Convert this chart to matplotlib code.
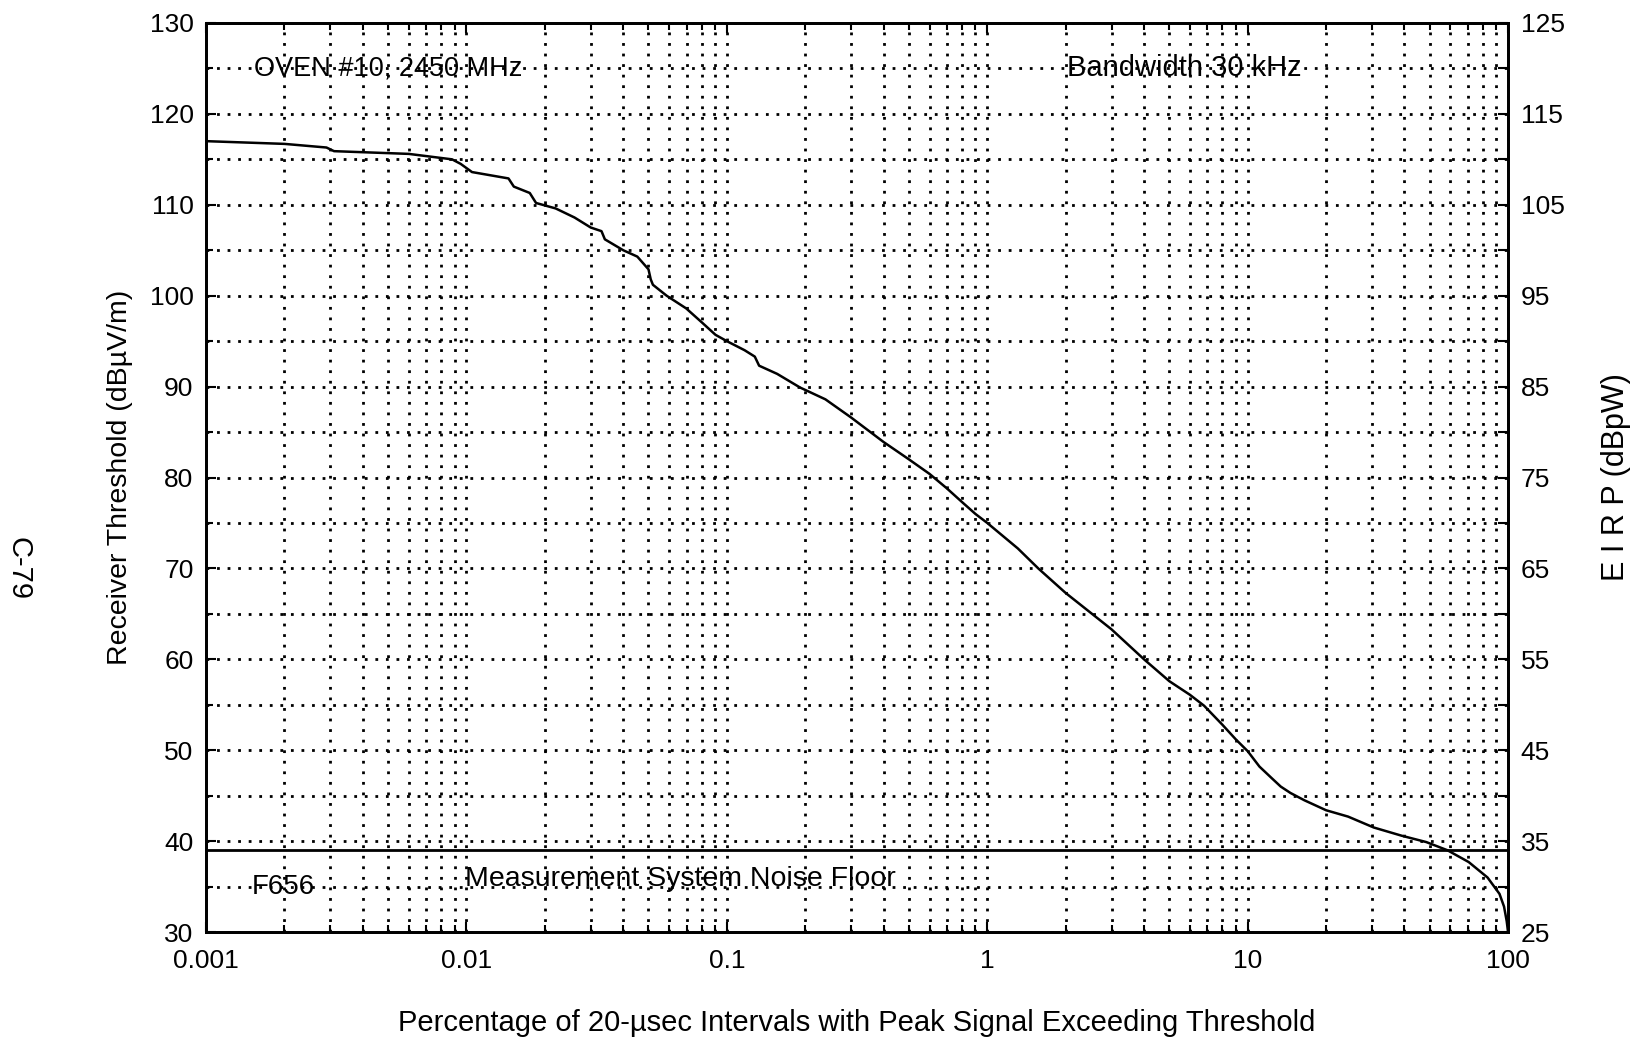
import matplotlib
matplotlib.use('Agg')
import matplotlib.pyplot as plt
from matplotlib.ticker import LogLocator, FixedLocator, MultipleLocator, NullFormatter

plt.rcParams['font.family'] = ['Liberation Sans Narrow', 'Liberation Sans', 'DejaVu Sans']

# percentage of intervals exceeding threshold vs receiver threshold (dBuV/m)
pct = [0.001, 0.002, 0.0029, 0.0031, 0.006, 0.0088, 0.0095, 0.0105, 0.0145,
       0.0152, 0.0175, 0.0185, 0.022, 0.026, 0.030, 0.033, 0.034, 0.040,
       0.0453, 0.050, 0.051, 0.052, 0.0587, 0.0698, 0.0806, 0.0904, 0.1,
       0.117, 0.128, 0.133, 0.156, 0.191, 0.239, 0.3, 0.4, 0.5, 0.6, 0.7,
       0.8, 0.9, 1.0, 1.31, 1.57, 2.0, 2.45, 3.0, 4.0, 5.0, 6.0, 6.8, 8.0,
       9.0, 10, 11.1, 12.4, 13.4, 14.6, 16.5, 20, 24.3, 30.5, 39, 48.5, 58.5,
       70.6, 83.4, 92.7, 96.5, 98.8, 100]
level = [117.0, 116.7, 116.3, 115.9, 115.6, 115.0, 114.5, 113.6, 112.9,
         112.0, 111.3, 110.2, 109.6, 108.6, 107.5, 107.1, 106.2, 105.0,
         104.3, 102.9, 101.8, 101.2, 100.0, 98.6, 97.0, 95.7, 95.0,
         94.0, 93.3, 92.3, 91.4, 89.9, 88.6, 86.6, 83.9, 82.0, 80.4, 78.8,
         77.3, 76.0, 75.0, 72.2, 70.0, 67.3, 65.3, 63.3, 60.0, 57.6, 56.1, 54.9, 52.8,
         51.2, 49.9, 48.2, 46.9, 46.0, 45.3, 44.5, 43.4, 42.7, 41.5, 40.6, 39.9,
         39.0, 37.7, 36.0, 34.2, 32.8, 31.2, 30.0]
noise_floor = 39.0

x_ticks = [0.001, 0.01, 0.1, 1, 10, 100]
x_labels = ['0.001', '0.01', '0.1', '1', '10', '100']

fig = plt.figure(figsize=(16.46, 10.54), dpi=100)
ax = fig.add_axes([0.1252, 0.1157, 0.7910, 0.8625])

dots = (0, (1, 2.8))
ax.set_xscale('log')
ax.set_xlim(0.001, 100)
ax.set_ylim(30, 130)
ax.xaxis.set_major_locator(FixedLocator(x_ticks))
ax.set_xticklabels(x_labels)
ax.xaxis.set_minor_locator(LogLocator(base=10, subs=range(2, 10)))
ax.xaxis.set_minor_formatter(NullFormatter())
ax.yaxis.set_major_locator(MultipleLocator(10))
ax.yaxis.set_minor_locator(MultipleLocator(5))
ax.grid(which='both', color='black', linestyle=dots, linewidth=2.0)
ax.set_axisbelow(True)

ax.plot(pct, level, color='black', linewidth=1.8)
ax.axhline(noise_floor, color='black', linewidth=2)

for s in ax.spines.values():
    s.set_linewidth(2)
ax.tick_params(which='both', direction='in', top=True, labelsize=19, width=1.5)
ax.tick_params(which='major', length=7)
ax.tick_params(which='minor', length=5)
ax.tick_params(axis='x', pad=12)
ax.tick_params(axis='y', pad=9)

ax2 = ax.twinx()
ax2.set_ylim(25, 125)
ax2.yaxis.set_major_locator(FixedLocator(range(25, 126, 10)))
ax2.yaxis.set_minor_locator(FixedLocator(range(30, 126, 10)))
ax2.tick_params(which='both', direction='in', labelsize=19, width=1.5, pad=9)
ax2.tick_params(which='major', length=7)
ax2.tick_params(which='minor', length=7)
for s in ax2.spines.values():
    s.set_linewidth(2)

ax.text(0.00153, 125, 'OVEN #10, 2450 MHz', fontsize=19.5, va='center', ha='left')
ax.text(2.03, 125, 'Bandwidth 30 kHz', fontsize=21, va='center', ha='left')
ax.text(0.0015, 35, 'F656', fontsize=20, va='center', ha='left')
ax.text(0.0099, 35.8, 'Measurement System Noise Floor', fontsize=20.5, va='center', ha='left')

ax.set_xlabel('Percentage of 20-\u00b5sec Intervals with Peak Signal Exceeding Threshold',
              fontsize=21, labelpad=26)
ax.set_ylabel('Receiver Threshold (dB\u00b5V/m)', fontsize=20.5, labelpad=12)
ax2.set_ylabel('E I R P (dBpW)', fontsize=22, labelpad=26, rotation=90)
fig.text(0.011, 0.461, 'C-79', fontsize=21, rotation=-90, va='center', ha='center')

fig.savefig('out.png', dpi=100)
